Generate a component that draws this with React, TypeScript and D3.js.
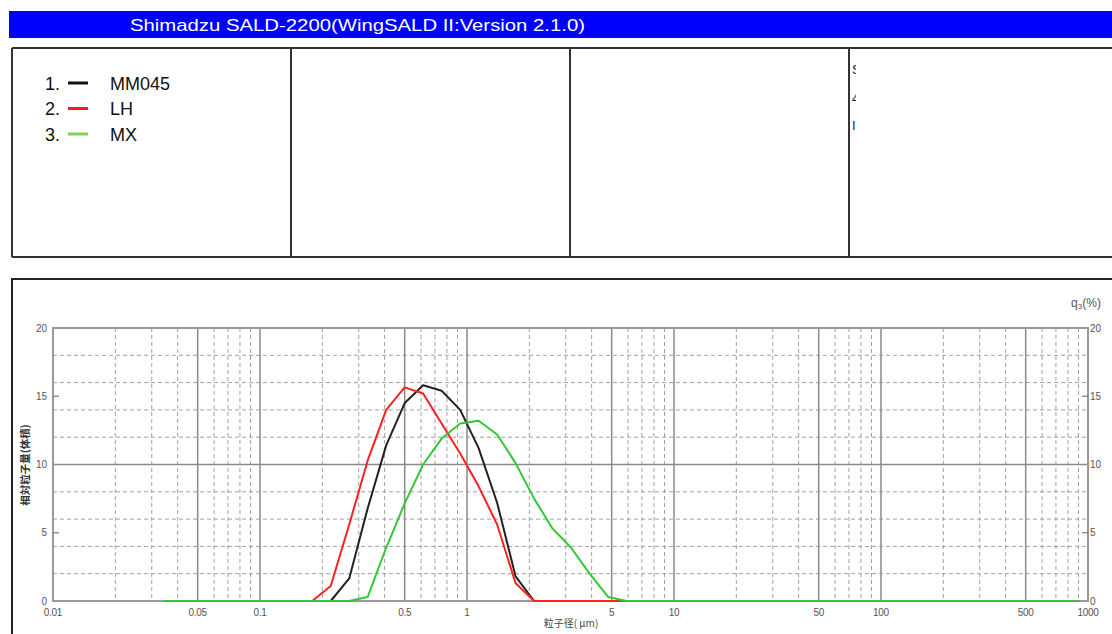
import React from "react";
import * as d3 from "d3";

// ---- data ----
const sizes = [0.0344, 0.1788, 0.2196, 0.2698, 0.3314, 0.407, 0.5, 0.614, 0.754, 0.927, 1.138, 1.398, 1.717, 2.109, 2.591, 3.183, 3.91, 4.803, 5.9, 900];
const mm045 = [0, 0, 0, 1.65, 6.8, 11.4, 14.5, 15.8, 15.4, 14.0, 11.2, 7.2, 1.8, 0, 0, 0, 0, 0, 0, 0];
const lh = [0, 0, 1.1, 5.6, 10.3, 14.0, 15.65, 15.2, 13.0, 10.8, 8.4, 5.6, 1.3, 0, 0, 0, 0, 0, 0, 0];
const mx = [0, 0, 0, 0, 0.3, 3.9, 7.15, 10.0, 11.9, 13.0, 13.2, 12.2, 10.1, 7.5, 5.3, 3.9, 2.0, 0.3, 0, 0];

const seriesNames = ["MM045", "LH", "MX"];
const seriesColors = ["#222222", "#ff2020", "#33c833"];
const legendColors = ["#111111", "#ff1a1a", "#7fd24a"];

const xTickValues = [0.01, 0.05, 0.1, 0.5, 1, 5, 10, 50, 100, 500, 1000];
const xTickLabels = ["0.01", "0.05", "0.1", "0.5", "1", "5", "10", "50", "100", "500", "1000"];
const yTickValues = [0, 5, 10, 15, 20];
const yGridDashed = [2, 4, 6, 8, 12, 14, 16, 18];
const titleText = "Shimadzu SALD-2200(WingSALD II:Version 2.1.0)";
const xTitle = "粒子径( μm)";
const yTitle = "相対粒子量(体積)";

export default function App() {
  const x = d3.scaleLog().domain([0.01, 1000]).range([53, 1088]);
  const y = d3.scaleLinear().domain([0, 20]).range([601, 328]);

  const solidV: number[] = [];
  const dashedV: number[] = [];
  for (let e = -2; e < 3; e++) {
    for (let m = 1; m <= 9; m++) {
      const v = m * Math.pow(10, e);
      if (m === 1 && e === -2) continue;
      if (m === 1 || m === 5) solidV.push(v);
      else dashedV.push(v);
    }
  }

  const line = d3
    .line<[number, number]>()
    .x((d) => x(d[0]))
    .y((d) => y(d[1]));

  const allSeries = [mm045, lh, mx];

  return (
    <div style={{ position: "absolute", left: 0, top: 0 }}>
      <svg width={1112} height={634} style={{ display: "block", background: "#fff" }}>
        <defs>
          <clipPath id="cellclip">
            <rect x={850} y={50} width={6} height={200} />
          </clipPath>
        </defs>
        {/* header */}
        <rect x={9} y={11} width={1103} height={27} fill="#0000ff" />
        <text x={130} y={31} fill="#fff" fontFamily="Arial, 'Liberation Sans', sans-serif" fontSize={17} textLength={455} lengthAdjust="spacingAndGlyphs">
          {titleText}
        </text>

        {/* info table */}
        <g stroke="#333" strokeWidth={2} fill="none">
          <line x1={12} y1={48} x2={1112} y2={48} />
          <line x1={12} y1={257} x2={1112} y2={257} />
          <line x1={12} y1={48} x2={12} y2={257} />
          <line x1={291} y1={48} x2={291} y2={257} />
          <line x1={570} y1={48} x2={570} y2={257} />
          <line x1={849} y1={48} x2={849} y2={257} />
        </g>
        <g clipPath="url(#cellclip)" fontFamily="Arial, sans-serif" fontSize={13} fill="#222">
          <text x={852} y={74}>S</text>
          <text x={852} y={103}>4</text>
          <text x={852} y={130}>I</text>
        </g>

        {/* legend */}
        {seriesNames.map((name, i) => {
          const cy = 83 + i * 25.5;
          return (
            <g key={name} fontFamily="Arial, 'Liberation Sans', sans-serif" fontSize={18} fill="#111">
              <text x={45} y={cy + 6.5}>{`${i + 1}.`}</text>
              <line x1={68} x2={88} y1={cy} y2={cy} stroke={legendColors[i]} strokeWidth={3} />
              <text x={110} y={cy + 6.5}>{name}</text>
            </g>
          );
        })}

        {/* chart box */}
        <g stroke="#222" strokeWidth={2}>
          <line x1={11} y1={279} x2={1112} y2={279} />
          <line x1={12} y1={279} x2={12} y2={634} />
        </g>

        {/* grid */}
        <g stroke="#a0a0a0" strokeWidth={1} strokeDasharray="4,3">
          {dashedV.map((v) => (
            <line key={"dv" + v} x1={x(v)} x2={x(v)} y1={y(20)} y2={y(0)} />
          ))}
          {yGridDashed.map((v) => (
            <line key={"dh" + v} x1={x(0.01)} x2={x(1000)} y1={y(v)} y2={y(v)} />
          ))}
        </g>
        <g stroke="#8a8a8a" strokeWidth={1.5}>
          {solidV.map((v) => (
            <line key={"sv" + v} x1={x(v)} x2={x(v)} y1={y(20)} y2={y(0)} />
          ))}
          <line x1={x(0.01)} x2={x(1000)} y1={y(10)} y2={y(10)} />
        </g>
        <rect x={x(0.01)} y={y(20)} width={x(1000) - x(0.01)} height={y(0) - y(20)} fill="none" stroke="#999" strokeWidth={2} />
        <g stroke="#777" strokeWidth={1.2}>
          {[5, 15].map((v) => (
            <g key={"t" + v}>
              <line x1={x(0.01)} x2={x(0.01) + 6} y1={y(v)} y2={y(v)} />
              <line x1={x(1000) - 6} x2={x(1000)} y1={y(v)} y2={y(v)} />
            </g>
          ))}
        </g>

        {/* axis labels */}
        <g fontFamily="Arial, 'Liberation Sans', sans-serif" fontSize={10} fill="#555">
          {xTickValues.map((v, i) => (
            <text key={"xl" + v} x={x(v)} y={616} textAnchor="middle" letterSpacing={-0.3}>{xTickLabels[i]}</text>
          ))}
          {yTickValues.map((v) => (
            <text key={"yl" + v} x={47} y={y(v) + 3.5} textAnchor="end">{v}</text>
          ))}
          {yTickValues.map((v) => (
            <text key={"yr" + v} x={1090} y={y(v) + 3.5} textAnchor="start">{v}</text>
          ))}
        </g>
        <text x={571} y={627} textAnchor="middle" fontFamily="'Noto Sans CJK JP', sans-serif" fontSize={10} fill="#444">{xTitle}</text>
        <text transform={`translate(29,465) rotate(-90)`} textAnchor="middle" fontFamily="'Noto Sans CJK JP', sans-serif" fontSize={10.5} fontWeight="bold" fill="#333">{yTitle}</text>
        <text x={1086} y={307} textAnchor="middle" fontFamily="Arial, sans-serif" fontSize={12} fill="#555">
          q<tspan fontSize={8} dy={2}>3</tspan><tspan dy={-2}>(%)</tspan>
        </text>

        {/* curves */}
        {allSeries.map((vals, i) => (
          <path
            key={seriesNames[i]}
            d={line(sizes.map((s, j) => [s, vals[j]] as [number, number])) || ""}
            fill="none"
            stroke={seriesColors[i]}
            strokeWidth={2}
            strokeLinejoin="round"
          />
        ))}
      </svg>
    </div>
  );
}
